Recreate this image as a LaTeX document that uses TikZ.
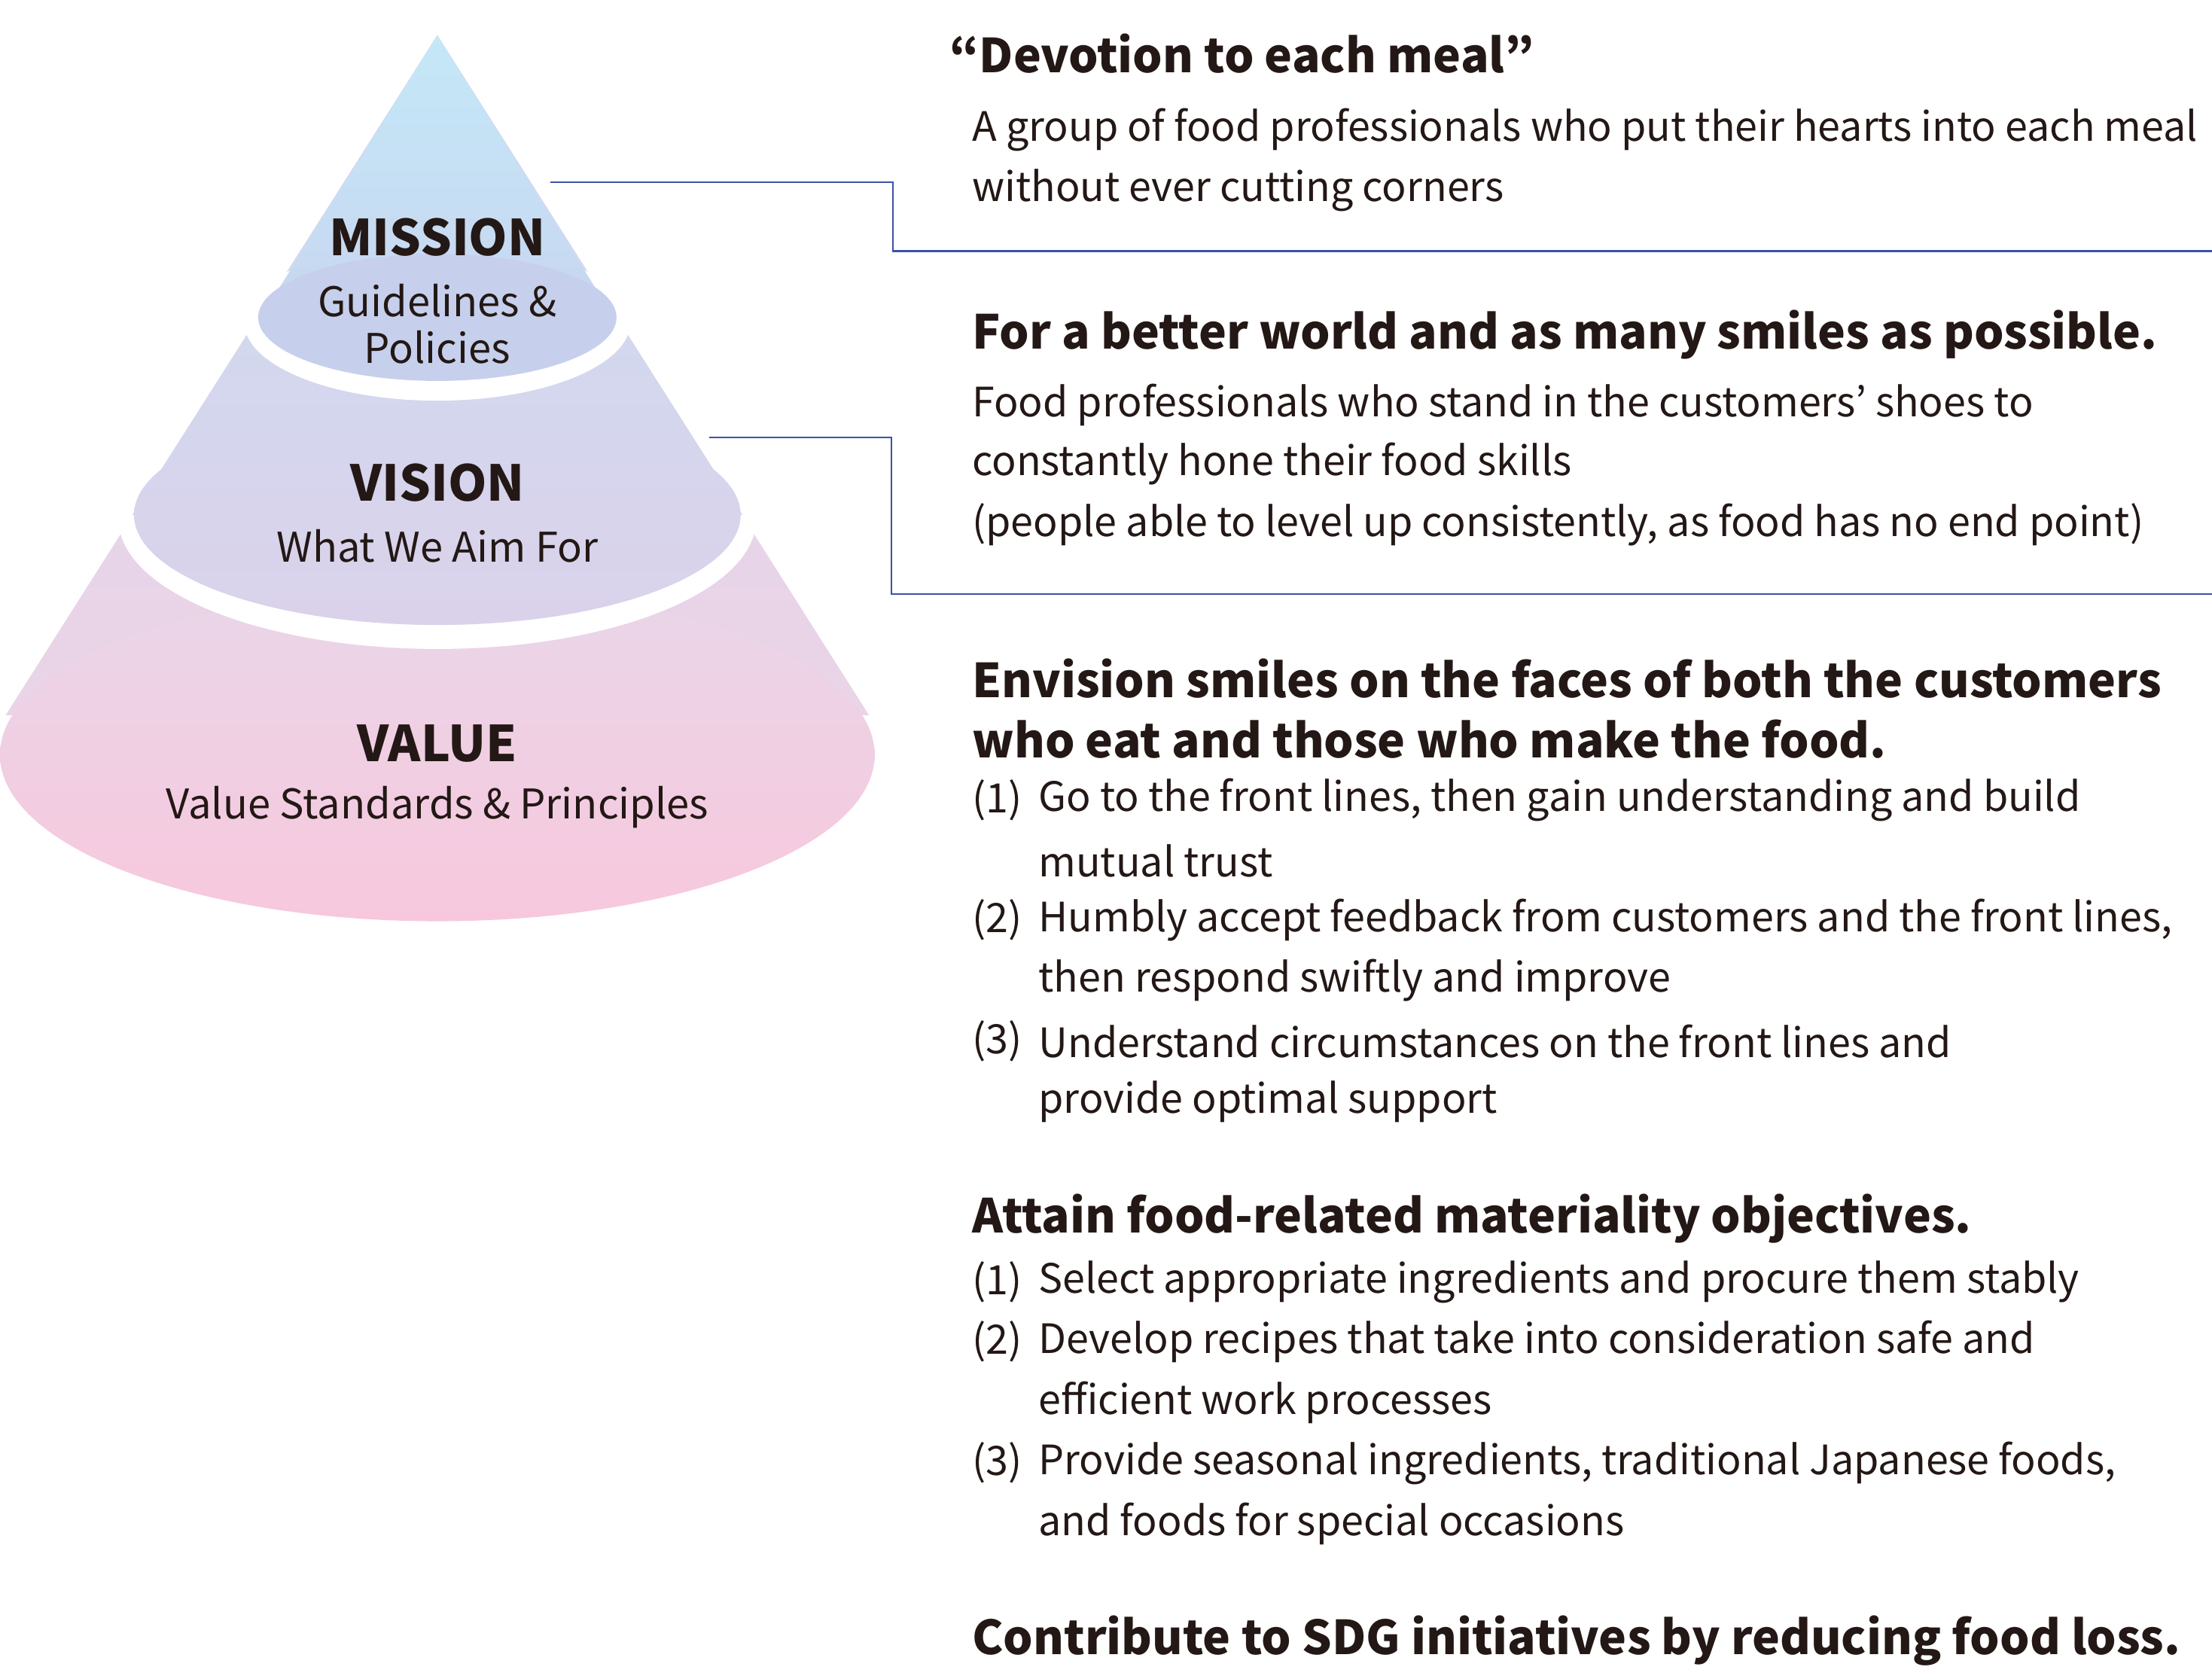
\documentclass[tikz,border=0pt]{standalone}
\usepackage{fontspec}
\setmainfont{Noto Sans CJK JP}
\usetikzlibrary{shadings}
\definecolor{lnk}{HTML}{3A52A8}
\definecolor{txt}{HTML}{231815}
\definecolor{pkA}{RGB}{233,214,232}
\definecolor{pkB}{RGB}{247,200,221}
\definecolor{pkC}{RGB}{234,212,231}
\definecolor{pkT}{RGB}{226,214,234}
\definecolor{vA}{RGB}{206,222,242}
\definecolor{vB}{RGB}{214,212,236}
\definecolor{vE1}{RGB}{212,214,238}
\definecolor{vE2}{RGB}{218,210,234}
\definecolor{mA}{RGB}{196,232,248}
\definecolor{mB}{RGB}{200,214,240}
\definecolor{mE}{RGB}{198,208,236}
\tikzset{
 body/.style={anchor=west,inner sep=0pt,text=txt,font=\fontsize{28.7}{31}\selectfont},
 ttl/.style={anchor=west,inner sep=0pt,text=txt,font=\fontsize{33.2}{36}\selectfont\bfseries},
 pyt/.style={inner sep=0pt,text=txt,font=\fontsize{35}{38}\selectfont\bfseries},
 pys/.style={inner sep=0pt,text=txt,font=\fontsize{29}{31}\selectfont},
 conn/.style={draw=lnk,line width=1.1pt}
}
\begin{document}
\begin{tikzpicture}[x=1pt,y=-1pt]
\useasboundingbox (0,0) rectangle (1568,1190);
\fill[white] (0,0) rectangle (1568,1190);
% bottom layer
\shade[top color=pkT,bottom color=pkC] (310,25) -- (4,507) -- (616,507) -- cycle;
\shade[top color=pkA,bottom color=pkB] (310,535) ellipse[x radius=310,y radius=118];
% vision
\fill[white] (310,368) ellipse[x radius=226,y radius=92];
\begin{scope}
\clip (0,0) rectangle (620,365);
\shade[top color=vA,bottom color=vB] (310,25) -- (88,374) -- (532,374) -- cycle;
\end{scope}
\shade[top color=vE1,bottom color=vE2] (310,365) ellipse[x radius=215,y radius=78];
% mission
\fill[white] (310,228) ellipse[x radius=137,y radius=56];
\begin{scope}
\clip (0,0) rectangle (620,225);
\shade[top color=mA,bottom color=mB] (310,25) -- (183,228) -- (437,228) -- cycle;
\end{scope}
\fill[mE] (310,225) ellipse[x radius=127,y radius=45];
% pyramid labels
\node[pyt] (m1) at (310,168) {MISSION};
\node[pys] (m2) at (310,213) {Guidelines \&};
\node[pys] (m3) at (310,246) {Policies};
\node[pyt] (v1) at (310,342) {VISION};
\node[pys] (v2) at (310,387) {What We Aim For};
\node[pyt] (a1) at (310,527) {VALUE};
\node[pys] (a2) at (310,572) {Value Standards \& Principles};
% connectors
\coordinate (c1) at (390,129); \coordinate (c2) at (633,129); \coordinate (c3) at (633,178); \coordinate (c4) at (1568,178);
\draw[conn] (c1) -- (c2) -- (c3) -- (c4);
\coordinate (d1) at (503,310); \coordinate (d2) at (632,310); \coordinate (d3) at (632,421); \coordinate (d4) at (1568,421);
\draw[conn] (d1) -- (d2) -- (d3) -- (d4);
% texts
\node[ttl] (t1) at (673,38) {“Devotion to each meal”};
\node[body] (b11) at (689,92) {A group of food professionals who put their hearts into each meal};
\node[body] (b12) at (689,135) {without ever cutting corners};
\node[ttl] (t2) at (689,237) {For a better world and as many smiles as possible.};
\node[body] (b21) at (689,287) {Food professionals who stand in the customers’ shoes to};
\node[body] (b22) at (689,329) {constantly hone their food skills};
\node[body] (b23) at (689,372) {(people able to level up consistently, as food has no end point)};
\node[ttl] (t3) at (689,481) {Envision smiles on the faces of both the customers};
\node[ttl] (t3b) at (689,524) {who eat and those who make the food.};
\node[body] (n31) at (689,567) {(1)};
\node[body] (b31) at (736,567) {Go to the front lines, then gain understanding and build};
\node[body] (b31b) at (736,610) {mutual trust};
\node[body] (n32) at (689,652) {(2)};
\node[body] (b32) at (736,652) {Humbly accept feedback from customers and the front lines,};
\node[body] (b32b) at (736,695) {then respond swiftly and improve};
\node[body] (n33) at (689,738) {(3)};
\node[body] (b33) at (736,738) {Understand circumstances on the front lines and};
\node[body] (b33b) at (736,781) {provide optimal support};
\node[ttl] (t4) at (689,864) {Attain food-related materiality objectives.};
\node[body] (n41) at (689,909) {(1)};
\node[body] (b41) at (736,909) {Select appropriate ingredients and procure them stably};
\node[body] (n42) at (689,951) {(2)};
\node[body] (b42) at (736,951) {Develop recipes that take into consideration safe and};
\node[body] (b42b) at (736,994) {efficient work processes};
\node[body] (n43) at (689,1037) {(3)};
\node[body] (b43) at (736,1037) {Provide seasonal ingredients, traditional Japanese foods,};
\node[body] (b43b) at (736,1080) {and foods for special occasions};
\node[ttl] (t5) at (689,1163) {Contribute to SDG initiatives by reducing food loss.};
\end{tikzpicture}
\end{document}
